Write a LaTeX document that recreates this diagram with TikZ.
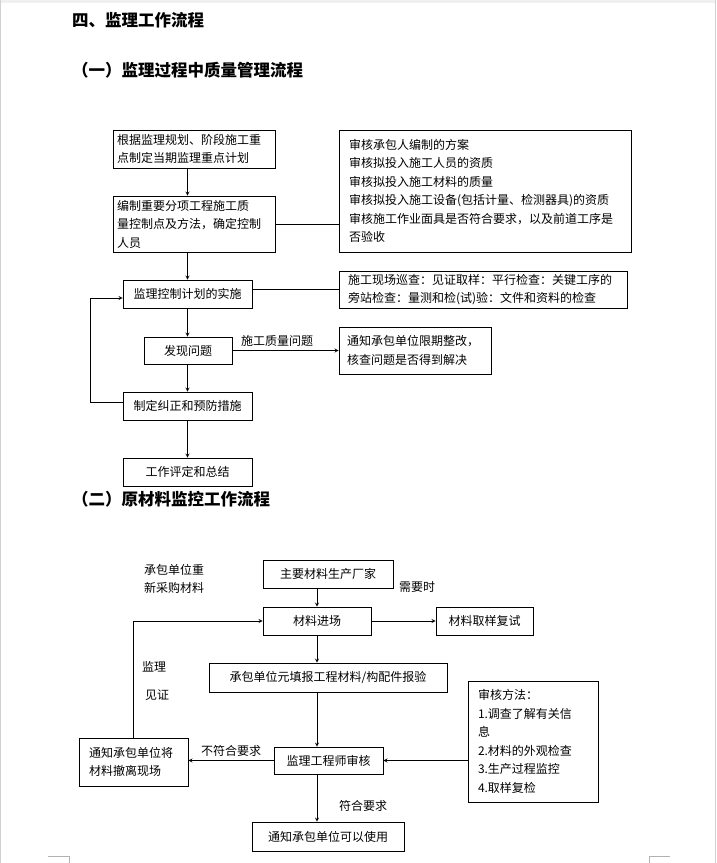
\documentclass[tikz,border=0pt]{standalone}
\usepackage{fontspec}
\setmainfont{Noto Sans CJK SC}

\begin{document}
\begin{tikzpicture}[x=1pt,y=-1pt,>=stealth,font=\fontsize{12}{18.5}\selectfont]
  \tikzstyle{box}=[draw,line width=0.8pt,inner xsep=4pt,inner ysep=2pt,align=left]
  \tikzstyle{cbox}=[draw,line width=0.8pt,inner sep=2pt,align=center]
  \tikzstyle{head}=[anchor=west,inner sep=0pt,font=\fontsize{16.5}{20}\selectfont\bfseries]
  \tikzstyle{link}=[line width=0.8pt]
  \tikzstyle{note}=[inner sep=1pt,align=center]
  \useasboundingbox (0,0) rectangle (716,863);
  \fill[gray!12] (0,0) rectangle (716,3);
  \draw[gray!35] (0.5,0) -- (0.5,863) (715.5,0) -- (715.5,863);
  \draw[gray!60] (48,856) -- (69,856) -- (69,863) (670,856) -- (649,856) -- (649,863);

  \node[head] (t1) at (72,20) {四、监理工作流程};
  \node[head] (t2) at (72,70) {（一）监理过程中质量管理流程};

  \node[box,text width=154pt,minimum height=38pt] (plan) at (194,149) {根据监理规划、阶段施工重\\点制定当期监理重点计划};
  \node[box,text width=154pt,minimum height=56pt] (ctrlpt) at (194,224) {编制重要分项工程施工质\\量控制点及方法，确定控制\\人员};
  \node[box,inner xsep=10pt,text width=272pt,minimum height=122pt] (review) at (485,191) {审核承包人编制的方案\\审核拟投入施工人员的资质\\审核拟投入施工材料的质量\\审核拟投入施工设备(包括计量、检测器具)的资质\\审核施工作业面具是否符合要求，以及前道工序是\\否验收};
  \node[cbox,minimum width=129pt,minimum height=28pt] (impl) at (187.5,294) {监理控制计划的实施};
  \node[box,inner xsep=9pt,text width=270pt,minimum height=37pt] (patrol) at (483,289.5) {施工现场巡查：见证取样：平行检查：关键工序的\\旁站检查：量测和检(试)验：文件和资料的检查};
  \node[cbox,minimum width=88pt,minimum height=27pt] (issue) at (188,350.5) {发现问题};
  \node[box,inner xsep=8pt,text width=136pt,minimum height=47pt] (rectify) at (415,350.5) {通知承包单位限期整改，\\核查问题是否得到解决};
  \node[cbox,minimum width=129pt,minimum height=28pt] (measure) at (187.5,406) {制定纠正和预防措施};
  \node[cbox,minimum width=129pt,minimum height=28pt] (summary) at (187.5,472) {工作评定和总结};

  \draw[->,link] (plan.south -| impl) -- (impl |- ctrlpt.north);
  \draw[->,link] (ctrlpt.south -| impl) -- (impl);
  \draw[link] (ctrlpt.east) -- (ctrlpt.east -| review.west);
  \draw[link] (patrol.west -| impl.east) -- (patrol.west);
  \draw[->,link] (impl) -- (impl |- issue.north);
  \draw[->,link] (issue) -- node[above,pos=.42] {施工质量问题} (rectify);
  \draw[->,link] (issue.south -| impl) -- (impl |- measure.north);
  \draw[->,link] (measure) -- (summary);
  \draw[->,link] ([yshift=4pt]measure.west) -- ++(-32,0) |- ([yshift=-4pt]impl.west);

  \node[head] (t3) at (72,499) {（二）原材料监控工作流程};

  \node[note] (rebuy) at (174,579) {承包单位重\\新采购材料};
  \node[cbox,minimum width=130pt,minimum height=28pt] (maker) at (328,574) {主要材料生产厂家};
  \node[cbox,minimum width=108pt,minimum height=28pt] (entry) at (317,621) {材料进场};
  \node[note] (need) at (417,587) {需要时};
  \node[cbox,minimum width=97pt,minimum height=28pt] (retest) at (484.5,621) {材料取样复试};
  \node[note] (wit1) at (154,667) {监理};
  \node[note] (wit2) at (157,695) {见证};
  \node[cbox,minimum width=238pt,minimum height=29pt] (report) at (328,677.5) {承包单位元填报工程材料/构配件报验};
  \node[box,inner xsep=10pt,text width=110pt,minimum height=121pt] (method) at (533,741.5) {审核方法：\\1.调查了解有关信\\息\\2.材料的外观检查\\3.生产过程监控\\4.取样复检};
  \node[cbox,minimum width=109pt,minimum height=27pt] (check) at (328.5,760.5) {监理工程师审核};
  \node[box,inner xsep=10pt,text width=89pt,minimum height=48pt] (remove) at (133.5,762) {通知承包单位将\\材料撤离现场};
  \node[cbox,minimum width=152pt,minimum height=29pt] (use) at (328,836.5) {通知承包单位可以使用};
  \node[note] (pass) at (363,806) {符合要求};

  \draw[->,link] (maker.south -| entry) -- (entry);
  \draw[->,link] (entry) -- (retest);
  \draw[->,link] (entry) -- (entry |- report.north);
  \draw[->,link] (report.south -| entry) -- (entry |- check.north);
  \draw[->,link] (check.south -| entry) -- (entry |- use.north);
  \draw[->,link] (method.west |- check.east) -- (check.east);
  \draw[->,link] (check.west) -- node[above] {不符合要求} (check.west -| remove.east);
  \draw[->,link] (remove.north) |- (entry.west);
\end{tikzpicture}
\end{document}
